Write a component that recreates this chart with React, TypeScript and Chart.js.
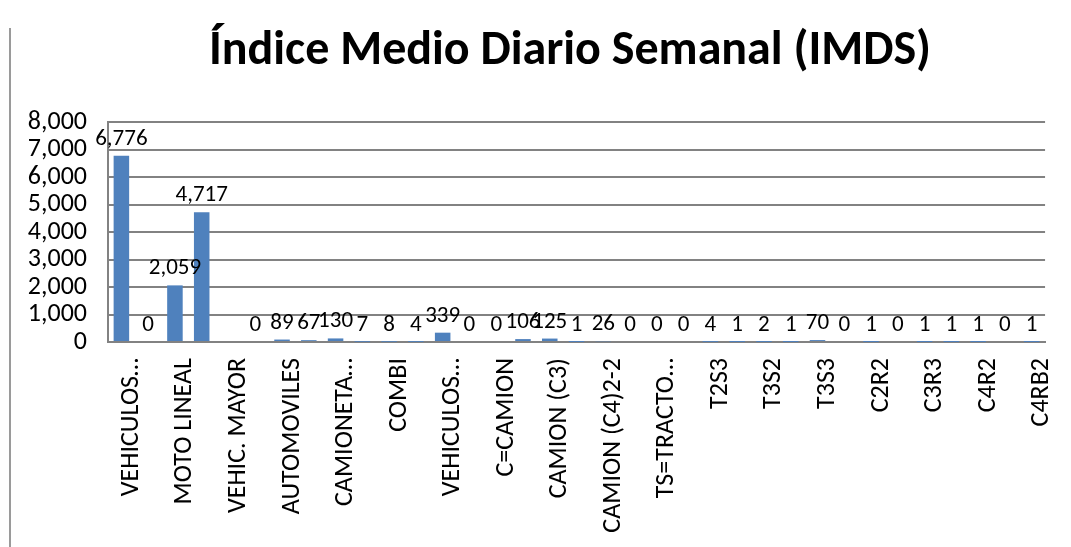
import React, { useEffect, useRef } from "react";
import { Chart, registerables } from "chart.js";

Chart.register(...registerables);

const titleText = "Índice Medio Diario Semanal (IMDS)";

const categories: string[] = [
  "VEHICULOS MENORES", "BICICLETA", "MOTO LINEAL", "MOTOTAXI", "VEHIC. MAYOR",
  "VEHICULOS LIGEROS", "AUTOMOVILES", "STATION WAGON", "CAMIONETAS PICK UP", "CAMIONETA RURAL",
  "COMBI", "MICRO", "VEHICULOS PESADOS", "BUS", "C=CAMION",
  "CAMION (C2)", "CAMION (C3)", "CAMION (C4)", "CAMION (C4)2-2", "CAMION (C4)2-3",
  "TS=TRACTO CAMION", "T2S1", "T2S3", "T3S1", "T3S2",
  "T2S2", "T3S3", "CR=CAMION REMOLQUE", "C2R2", "C2R3",
  "C3R3", "C3R2", "C4R2", "C4R3", "C4RB2",
];

const shownLabels: string[] = [
  "VEHICULOS…", "", "MOTO LINEAL", "", "VEHIC. MAYOR",
  "", "AUTOMOVILES", "", "CAMIONETA…", "",
  "COMBI", "", "VEHICULOS…", "", "C=CAMION",
  "", "CAMION (C3)", "", "CAMION (C4)2-2", "",
  "TS=TRACTO…", "", "T2S3", "", "T3S2",
  "", "T3S3", "", "C2R2", "",
  "C3R3", "", "C4R2", "", "C4RB2",
];

const values: (number | null)[] = [
  6776, 0, 2059, 4717, null,
  0, 89, 67, 130, 7,
  8, 4, 339, 0, 0,
  106, 125, 1, 26, 0,
  0, 0, 4, 1, 2,
  1, 70, 0, 1, 0,
  1, 1, 1, 0, 1,
];

const yTicks: number[] = [0, 1000, 2000, 3000, 4000, 5000, 6000, 7000, 8000];

const fmt = (v: number) => v.toLocaleString("en-US");

const FAMILY = "Carlito, Calibri, 'Open Sans', sans-serif";

const valueLabels = {
  id: "valueLabels",
  afterDatasetsDraw(chart: any) {
    const ctx = chart.ctx;
    const meta = chart.getDatasetMeta(0);
    ctx.save();
    ctx.font = `23px ${FAMILY}`;
    ctx.fillStyle = "#000";
    ctx.textAlign = "center";
    ctx.textBaseline = "alphabetic";
    meta.data.forEach((bar: any, i: number) => {
      const v = values[i];
      if (v === null || v === undefined) return;
      ctx.fillText(fmt(v), bar.x, bar.y - 11);
    });
    ctx.restore();
  },
};

const titleDrawer = {
  id: "titleDrawer",
  afterDraw(chart: any) {
    const ctx = chart.ctx;
    ctx.save();
    ctx.font = `bold 48px ${FAMILY}`;
    ctx.fillStyle = "#000";
    ctx.textAlign = "center";
    ctx.textBaseline = "middle";
    ctx.fillText(titleText, 570, 52);
    ctx.restore();
  },
};

export default function App() {
  const ref = useRef<HTMLCanvasElement | null>(null);
  useEffect(() => {
    if (!ref.current) return;
    const chart = new Chart(ref.current, {
      type: "bar",
      data: {
        labels: categories,
        datasets: [
          {
            data: values,
            backgroundColor: "#4F81BD",
            barPercentage: 0.58,
            categoryPercentage: 1,
          },
        ],
      },
      options: {
        animation: false,
        responsive: false,
        maintainAspectRatio: false,
        layout: { padding: { left: 0, right: 9, top: 122, bottom: 0 } },
        plugins: {
          legend: { display: false },
          tooltip: { enabled: false },
          title: { display: false },
        },
        scales: {
          x: {
            afterFit: (axis: any) => {
              axis.height = 205;
            },
            grid: { display: false },
            border: { display: true, color: "#828282", width: 2 },
            ticks: {
              autoSkip: false,
              maxRotation: 90,
              minRotation: 90,
              labelOffset: 10,
              color: "#000",
              font: { family: FAMILY, size: 26 },
              padding: 8,
              callback: (_v: any, i: number) => shownLabels[i],
            },
          },
          y: {
            min: 0,
            max: 8000,
            afterFit: (axis: any) => {
              axis.width = 108;
            },
            afterBuildTicks: (axis: any) => {
              axis.ticks = yTicks.map((v) => ({ value: v }));
            },
            grid: { color: "#828282", lineWidth: 2, drawTicks: false },
            border: { display: true, color: "#828282", width: 2 },
            ticks: {
              autoSkip: false,
              color: "#000",
              font: { family: FAMILY, size: 26 },
              padding: 21,
              callback: (v: any) => fmt(Number(v)),
            },
          },
        },
      },
      plugins: [valueLabels, titleDrawer],
    });
    return () => chart.destroy();
  }, []);
  return (
    <div style={{ position: "absolute", left: 0, top: 0, width: 1071, height: 547, background: "#fff" }}>
      <div style={{ position: "absolute", left: 9, top: 28, width: 2, height: 519, background: "#9a9a9a" }} />
      <canvas ref={ref} width={1071} height={547} style={{ position: "absolute", left: 0, top: 0 }} />
    </div>
  );
}
